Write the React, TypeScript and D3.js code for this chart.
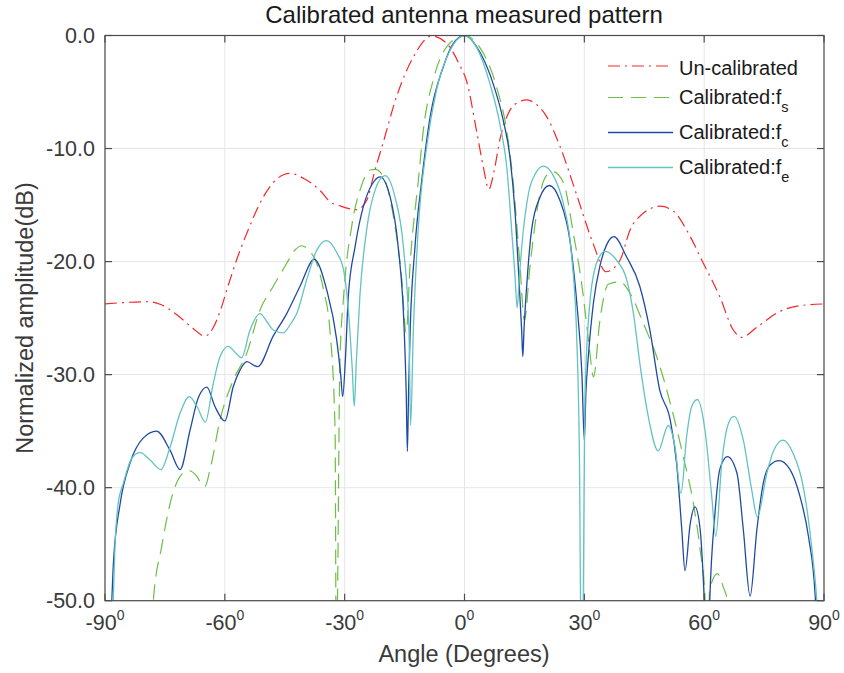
import React from 'react';
import * as d3 from 'd3';

// [angle (deg), amplitude (dB)]
const unCalibrated: [number, number][] = [
  [-90, -23.75], [-84, -23.6], [-79, -23.55], [-76, -23.8], [-72, -24.7], [-68, -25.9], [-65, -26.6],
  [-63, -25.9], [-61, -24.2], [-59.5, -22.5], [-57, -19.8], [-54.5, -17.5], [-50.4, -14.3], [-47, -12.7],
  [-43.7, -12.2], [-40, -12.7], [-36.2, -13.7], [-33.7, -14.7], [-31, -15.1], [-27, -15.4], [-24.5, -14.6],
  [-22.4, -11.9], [-20.3, -9.4], [-17, -5.4], [-12.8, -1.9], [-8.2, -0.05], [-4.45, -0.7], [-1.1, -2.7],
  [0.5, -4.0], [3.05, -8.5], [4.7, -11.6], [6.1, -13.6], [7.4, -12.0], [8.9, -9.15], [11.4, -6.6],
  [13.5, -5.9], [15.6, -5.7], [18, -6.1], [20.6, -7.2], [23.9, -9.8], [28.0, -14.0], [32.3, -18.5],
  [35.4, -20.9], [38.9, -19.9], [41.45, -17.2], [44.5, -15.8], [49, -15.1], [52.5, -15.6], [55.6, -17.2],
  [59.8, -20.15], [63.9, -23.1], [67.3, -26.05], [69.4, -26.7], [73.2, -25.8], [79, -24.4], [84, -23.9],
  [90, -23.75],
];

const calibratedFs: [number, number][] = [
  [-78.6, -56], [-77.9, -50], [-75.8, -45.2], [-73.7, -41.4], [-71.2, -39.0], [-69.1, -38.5], [-67.0, -39.0],
  [-65.6, -39.8], [-65, -39.9], [-63.7, -38.4], [-61.2, -34.0], [-57.9, -30.5], [-54.5, -28.1], [-51.2, -24.3],
  [-47.9, -22.2], [-44.5, -20.15], [-42.5, -19.0], [-40.75, -18.6], [-39, -19.0], [-37, -20.15], [-35.3, -22.5],
  [-33.7, -26.05], [-32.4, -34.9], [-32.1, -56], [-31.8, -50], [-31.2, -29.0], [-30.2, -22.8], [-28.2, -16.8],
  [-26.0, -13.5], [-23.6, -11.9], [-22.4, -11.84], [-20.3, -12.5], [-17.8, -16.0], [-15.7, -21.6], [-14.6, -26.3],
  [-13.6, -20.15], [-11.55, -12.8], [-10.3, -8.36], [-7.8, -3.9], [-4.45, -1.0], [0, 0], [3.9, -1.1],
  [8.1, -4.65], [10.6, -8.5], [12.2, -13.0], [13.9, -20.4], [15.0, -25.2], [16.4, -20.4], [18.9, -14.0],
  [20.5, -12.4], [22.2, -12.05], [24.75, -13.0], [27.25, -17.5], [29.35, -22.0], [31.0, -26.8], [32.3, -30.2],
  [33.9, -25.2], [36.0, -22.0], [38.9, -21.8], [41.45, -22.8], [44.8, -25.5], [48.1, -28.4], [51.5, -32.5],
  [54.8, -37.3], [57.3, -41.4], [59.0, -45.5], [60.2, -49.6], [60.8, -55], [61.4, -49.05], [63.3, -47.6],
  [64.8, -48.8], [65.8, -50], [66.5, -55],
];

const calibratedFc: [number, number][] = [
  [-89.5, -56], [-88.3, -50], [-87.9, -46.7], [-86.2, -41.4], [-83.7, -37.8], [-80.4, -35.6], [-77.1, -35.0],
  [-73.7, -36.7], [-71.2, -38.4], [-68.7, -34.9], [-66.6, -32.0], [-64.5, -31.1], [-62.5, -32.8], [-60, -34.1],
  [-57.9, -31.07], [-56.2, -29.6], [-54.5, -28.85], [-51.8, -29.3], [-47.9, -26.6], [-44.5, -24.6], [-41.2, -22.2],
  [-37.6, -19.8], [-34.5, -22.5], [-32, -26.9], [-31, -30], [-30.5, -31.95], [-29.8, -28.5], [-29.1, -23.1],
  [-27.4, -18.7], [-25.3, -15.1], [-23.2, -13.2], [-21.15, -12.5], [-18.6, -14.3], [-16.6, -18.7], [-15.1, -26.05],
  [-14.6, -31.5], [-14.3, -36.8], [-14.0, -31.5], [-13.6, -26.05], [-12.4, -18.7], [-10.7, -12.8], [-8.6, -7.2],
  [-5.3, -2.76], [-2.8, -0.7], [0, 0], [3.8, -1.44], [7.2, -4.3], [9.7, -7.5], [11.4, -10.8], [12.65, -15.6],
  [13.7, -22.0], [14.3, -26], [14.6, -28.4], [14.9, -26], [15.6, -22.0], [16.8, -17.2], [18.9, -14.3],
  [21.25, -13.27], [23.9, -14.6], [26.4, -18.15], [28.1, -23.6], [29.4, -30.0], [30.0, -35.8], [30.4, -31.5],
  [31.0, -28.4], [32.3, -23.6], [33.9, -20.4], [35.6, -18.5], [37.4, -17.8], [40.6, -19.6], [43.9, -22.2],
  [46.4, -26.05], [48.9, -31.4], [51.5, -34.0], [53.1, -37.85], [54.4, -43.7], [55.2, -47.35], [56.5, -43.2],
  [57.7, -41.7], [59, -43.7], [59.8, -48.2], [60.4, -53], [61, -55], [61.4, -50], [62.7, -42.3], [63.9, -38.4],
  [65.8, -37.26], [68.2, -38.7], [69.8, -43.7], [71.5, -49.6], [73.2, -43.7], [74.8, -39.6], [76.5, -38.0],
  [78.75, -37.6], [81.5, -38.4], [84.0, -40.8], [86.1, -44.3], [87.8, -49.6], [88.5, -55],
];

const calibratedFe: [number, number][] = [
  [-89, -56], [-87.9, -49.6], [-87.5, -45.2], [-86.7, -41.4], [-85.4, -39.6], [-83.3, -37.4], [-81.2, -36.9],
  [-78.7, -37.55], [-76, -38.4], [-73.7, -36.4], [-71.2, -33.4], [-68.9, -31.95], [-67.0, -32.8], [-64.9, -34.2],
  [-62.9, -30.8], [-61.2, -28.4], [-59.1, -27.5], [-57.5, -28.0], [-55.8, -28.5], [-53.7, -26.05], [-51.2, -24.6],
  [-49.5, -25.3], [-47.9, -26.05], [-45.4, -26.3], [-43.5, -25.5], [-42.0, -24.6], [-39.5, -21.6], [-37, -19.0],
  [-34.5, -18.15], [-32, -19.2], [-30.3, -20.7], [-28.7, -26.05], [-28.1, -29.5], [-27.6, -32.8], [-27.1, -29],
  [-26.2, -23.1], [-24.5, -17.2], [-22.4, -13.7], [-19.9, -12.4], [-17.4, -14.3], [-15.3, -18.7], [-13.9, -26.05],
  [-13.5, -34.5], [-12.8, -26.05], [-11.6, -17.2], [-9.45, -9.8], [-7.0, -4.8], [-3.6, -1.3], [0, 0],
  [3.1, -1.1], [6.4, -4.3], [8.9, -7.9], [10.6, -11.7], [11.8, -17.2], [12.6, -21], [13.2, -24.1], [13.7, -21.5],
  [14.3, -18.8], [16.0, -14.0], [17.8, -12.2], [19.7, -11.56], [22.2, -12.37], [24.75, -14.9], [26.8, -19.4],
  [28.1, -26.8], [28.8, -38.1], [29.2, -55], [29.5, -55], [30.2, -31.6], [31.4, -23.6], [33.1, -20.1],
  [35.2, -19.1], [38.1, -19.9], [40.6, -21.6], [42.3, -24.6], [43.9, -29.0], [46.0, -33.7], [48.5, -36.75],
  [51.0, -34.5], [52.7, -36.4], [54.2, -40.5], [55.6, -35.5], [56.9, -32.8], [58.3, -32.2], [60.2, -34.9],
  [61.9, -40.8], [62.9, -44.3], [64.4, -37.85], [66.1, -34.3], [67.5, -33.7], [69.8, -35.8], [71.9, -40.2],
  [73.3, -42.6], [75.7, -38.7], [77.3, -36.8], [79.7, -35.8], [82.3, -37.0], [84.8, -39.9], [86.9, -45.2],
  [88.2, -50], [89, -55],
];

const xTicks = [-90, -60, -30, 0, 30, 60, 90];
const yTicks = [0, -10, -20, -30, -40, -50];
const legendNames = ['Un-calibrated', 'Calibrated:f', 'Calibrated:f', 'Calibrated:f'];
const legendSubs = ['', 's', 'c', 'e'];

const W = 844;
const H = 673;
const left = 105;
const right = 824;
const top = 35.5;
const bottom = 600.7;
const FONT = '"Liberation Sans", Arial, Helvetica, sans-serif';

const series = [
  { data: unCalibrated, color: '#f5262c', dash: '12,5,2,5', width: 1.2 },
  { data: calibratedFs, color: '#6cbf45', dash: '15,8', width: 1.2 },
  { data: calibratedFc, color: '#1f4aa3', dash: '', width: 1.3 },
  { data: calibratedFe, color: '#62c3c1', dash: '', width: 1.3 },
];

export default function App() {
  const x = d3.scaleLinear().domain([-90, 90]).range([left, right]);
  const y = d3.scaleLinear().domain([-50, 0]).range([bottom, top]);
  const line = d3
    .line<[number, number]>()
    .x((d) => x(d[0]))
    .y((d) => y(d[1]))
    .curve(d3.curveMonotoneX);

  const legendLineY = [66, 97.5, 132.5, 167.5];
  const legendTextY = [75, 104, 139, 174];

  return (
    <svg width={W} height={H} style={{ position: 'absolute', left: 0, top: 0, background: '#fff' }} fontFamily={FONT}>
      <rect x={0} y={0} width={W} height={H} fill="#fff" />
      <defs>
        <clipPath id="plotClip">
          <rect x={left} y={top} width={right - left} height={bottom - top} />
        </clipPath>
      </defs>
      {/* grid */}
      {xTicks.map((t) => (
        <line key={'gx' + t} x1={x(t)} x2={x(t)} y1={top} y2={bottom} stroke="#e6e6e6" strokeWidth={1} />
      ))}
      {yTicks.map((t) => (
        <line key={'gy' + t} x1={left} x2={right} y1={y(t)} y2={y(t)} stroke="#e6e6e6" strokeWidth={1} />
      ))}
      {/* series */}
      <g clipPath="url(#plotClip)">
        {series.map((s, i) => (
          <path
            key={i}
            d={line(s.data) || ''}
            fill="none"
            stroke={s.color}
            strokeWidth={s.width}
            strokeDasharray={s.dash || undefined}
            strokeLinejoin="round"
          />
        ))}
      </g>
      {/* axes box */}
      <rect x={left} y={top} width={right - left} height={bottom - top} fill="none" stroke="#4d4d4d" strokeWidth={1.2} />
      {xTicks.map((t) => (
        <g key={'tx' + t}>
          <line x1={x(t)} x2={x(t)} y1={bottom} y2={bottom - 7} stroke="#4d4d4d" strokeWidth={1.2} />
          <line x1={x(t)} x2={x(t)} y1={top} y2={top + 7} stroke="#4d4d4d" strokeWidth={1.2} />
          <text x={x(t)} y={629.5} textAnchor="middle" fontSize={21.5} fill="#3a3a3a">
            {t}
            <tspan fontSize={14} dy={-10}>0</tspan>
          </text>
        </g>
      ))}
      {yTicks.map((t) => (
        <g key={'ty' + t}>
          <line x1={left} x2={left + 7} y1={y(t)} y2={y(t)} stroke="#4d4d4d" strokeWidth={1.2} />
          <line x1={right} x2={right - 7} y1={y(t)} y2={y(t)} stroke="#4d4d4d" strokeWidth={1.2} />
          <text x={95} y={y(t) + 7.5} textAnchor="end" fontSize={21.5} fill="#3a3a3a">
            {t.toFixed(1)}
          </text>
        </g>
      ))}
      {/* labels */}
      <text x={464} y={22.7} textAnchor="middle" fontSize={24} fill="#1a1a1a">
        Calibrated antenna measured pattern
      </text>
      <text x={464} y={661.5} textAnchor="middle" fontSize={23.5} fill="#3a3a3a">
        Angle (Degrees)
      </text>
      <text transform="translate(33,318) rotate(-90)" textAnchor="middle" fontSize={23.5} fill="#3a3a3a">
        Normalized amplitude(dB)
      </text>
      {/* legend */}
      {series.map((s, i) => (
        <g key={'lg' + i}>
          <line
            x1={608}
            x2={673}
            y1={legendLineY[i]}
            y2={legendLineY[i]}
            stroke={s.color}
            strokeWidth={s.width}
            strokeDasharray={s.dash || undefined}
          />
          <text x={679} y={legendTextY[i]} fontSize={20} fill="#1a1a1a">
            {legendNames[i]}
            {legendSubs[i] && (
              <tspan fontSize={14.5} dy={7.5}>
                {legendSubs[i]}
              </tspan>
            )}
          </text>
        </g>
      ))}
    </svg>
  );
}
